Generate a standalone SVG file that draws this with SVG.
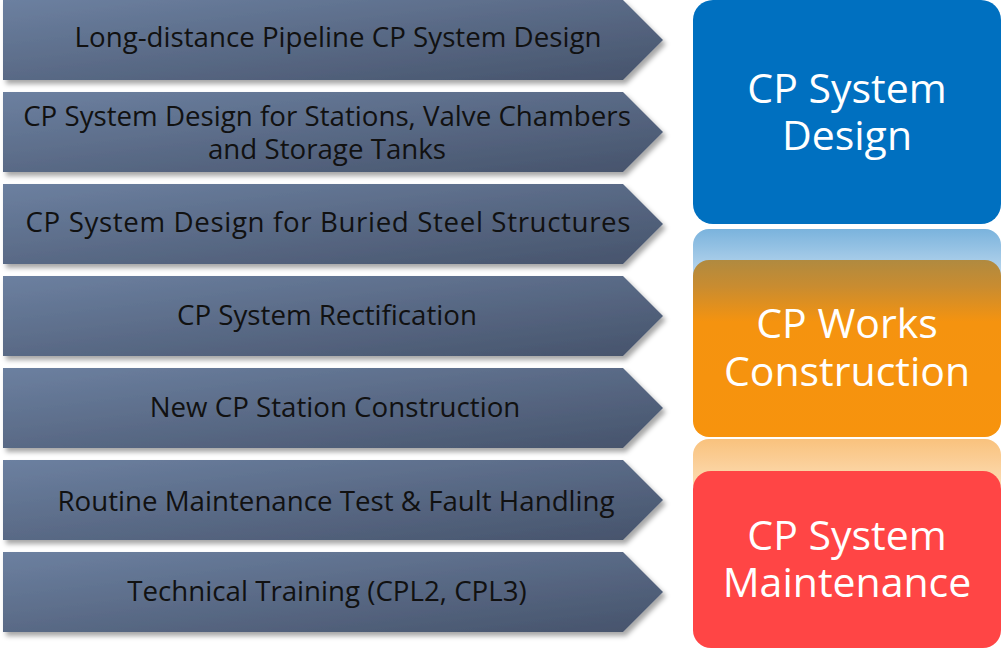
<svg xmlns="http://www.w3.org/2000/svg" width="1004" height="649" viewBox="0 0 1004 649">
<defs>
<linearGradient id="ag" x1="0" y1="0" x2="1" y2="1">
<stop offset="0" stop-color="#6c80a0"/>
<stop offset="1" stop-color="#46536b"/>
</linearGradient>
<linearGradient id="blueRef" x1="0" y1="0" x2="0" y2="1">
<stop offset="0" stop-color="#7ab3dd"/>
<stop offset="1" stop-color="#cfe2f2"/>
</linearGradient>
<linearGradient id="orRef" x1="0" y1="0" x2="0" y2="1">
<stop offset="0" stop-color="#f9c27d"/>
<stop offset="1" stop-color="#fde3c2"/>
</linearGradient>
<linearGradient id="orTop" x1="0" y1="0" x2="0" y2="1">
<stop offset="0" stop-color="#b08a40"/>
<stop offset="0.15" stop-color="#c98c30"/>
<stop offset="0.35" stop-color="#f5930f"/>
<stop offset="1" stop-color="#f7930d"/>
</linearGradient>
<filter id="sh" x="-5%" y="-10%" width="115%" height="130%">
<feDropShadow dx="3" dy="4" stdDeviation="2.5" flood-color="#000" flood-opacity="0.35"/>
</filter>
<path id="arrow" d="M3 0 H623 L663 40 L623 80 H3 Z"/>
</defs>
<style>
.a{fill:url(#ag);filter:url(#sh)}
.t{font-family:"Open Sans","Noto Sans",sans-serif;font-size:27.7px;fill:#111;text-anchor:middle;dominant-baseline:central}
.w{font-family:"Open Sans","Noto Sans",sans-serif;font-size:41px;fill:#fff;text-anchor:middle;dominant-baseline:central}
</style>
<g id="arrow1"><use href="#arrow" class="a" y="0"/><text class="t" x="338" y="36">Long-distance Pipeline CP System Design</text></g>
<g id="arrow2"><use href="#arrow" class="a" y="92"/><text class="t" x="327" y="115">CP System Design for Stations, Valve Chambers</text><text class="t" x="327" y="148">and Storage Tanks</text></g>
<g id="arrow3"><use href="#arrow" class="a" y="184"/><text class="t" x="328" y="221" textLength="605" lengthAdjust="spacing">CP System Design for Buried Steel Structures</text></g>
<g id="arrow4"><use href="#arrow" class="a" y="276"/><text class="t" x="327" y="314">CP System Rectification</text></g>
<g id="arrow5"><use href="#arrow" class="a" y="368"/><text class="t" x="335" y="406">New CP Station Construction</text></g>
<g id="arrow6"><use href="#arrow" class="a" y="460"/><text class="t" x="336" y="500">Routine Maintenance Test &amp; Fault Handling</text></g>
<g id="arrow7"><use href="#arrow" class="a" y="552"/><text class="t" x="327" y="590">Technical Training (CPL2, CPL3)</text></g>
<g id="design">
<rect x="693" y="0" width="308" height="224" rx="20" fill="#0070c0"/>
<text class="w" x="847" y="87">CP System</text>
<text class="w" x="847" y="134">Design</text>
</g>
<g id="construction">
<rect x="693" y="229" width="308" height="60" rx="16" fill="url(#blueRef)"/>
<rect x="693" y="260" width="308" height="177" rx="16" fill="url(#orTop)"/>
<text class="w" x="847" y="322">CP Works</text>
<text class="w" x="847" y="370">Construction</text>
</g>
<g id="maintenance">
<rect x="693" y="439" width="308" height="60" rx="16" fill="url(#orRef)"/>
<rect x="693" y="471" width="308" height="177" rx="18" fill="#ff4545"/>
<text class="w" x="847" y="534">CP System</text>
<text class="w" x="847" y="581">Maintenance</text>
</g>
</svg>
